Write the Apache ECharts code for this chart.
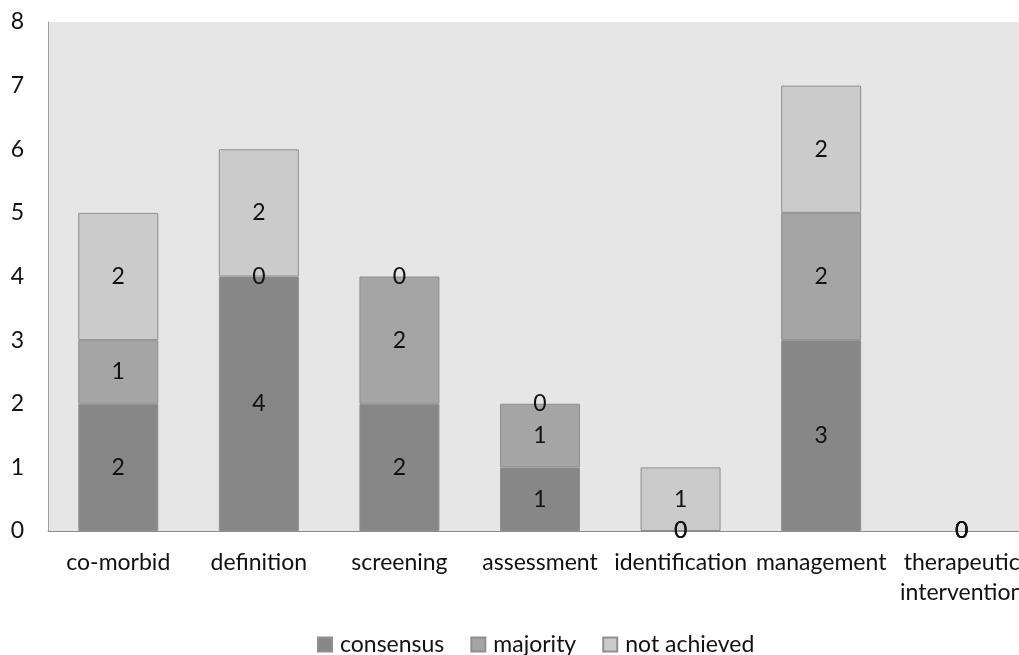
<!DOCTYPE html>
<html><head><meta charset="utf-8">
<script src="https://cdn.jsdelivr.net/npm/echarts@6/dist/echarts.min.js"></script>
<style>html,body{margin:0;padding:0;background:#fff;overflow:hidden;width:1019px;height:655px}#c{width:1032px;height:655px}</style>
</head><body><div id="c"></div>
<script>
const categories = ['co-morbid','definition','screening','assessment','identification','management','therapeutic\nintervention'];
const consensus = [2,4,2,1,0,3,0];
const majority = [1,0,2,1,0,2,0];
const notAchieved = [2,2,0,0,1,2,0];
const yTicks = [0,1,2,3,4,5,6,7,8];

const font = 'Lato, "Open Sans", sans-serif';
const FS = 23;
const lbl = {show:true, position:'inside', color:'#111', fontSize:FS, fontFamily:font};
function ser(name, data, color){
  return {name, type:'bar', stack:'s', barWidth:80,
    data: data.map(v => v === 0 ? {value:v, itemStyle:{borderWidth:0}} : v),
    itemStyle:{color, borderColor:'#8f8f8f', borderWidth:1},
    label:lbl, emphasis:{disabled:true}};
}
const chart = echarts.init(document.getElementById('c'), null, {renderer:'canvas'});
chart.setOption({
  animation:false,
  grid:{left:48, right:0, top:22, height:509, show:true, backgroundColor:'#e6e6e6', borderWidth:0},
  xAxis:{type:'category', data:categories,
    axisLine:{lineStyle:{color:'#8c8c8c', width:1}}, axisTick:{show:false},
    axisLabel:{color:'#111', fontSize:FS, fontFamily:font, margin:17, lineHeight:30, interval:0}},
  yAxis:{type:'value', min:yTicks[0], max:yTicks[yTicks.length-1], interval:1,
    splitLine:{show:false},
    axisLine:{show:true, lineStyle:{color:'#a0a0a0'}}, axisTick:{show:false},
    axisLabel:{color:'#111', fontSize:FS, fontFamily:font, margin:24}},
  legend:{top:628, left:312, itemWidth:14, itemHeight:14, itemGap:26,
    textStyle:{color:'#111', fontSize:FS, fontFamily:font, padding:[0,0,0,3]},
    icon:'rect'},
  series:[ser('consensus',consensus,'#878787'), ser('majority',majority,'#a5a5a5'), ser('not achieved',notAchieved,'#cbcbcb')]
});
</script></body></html>
